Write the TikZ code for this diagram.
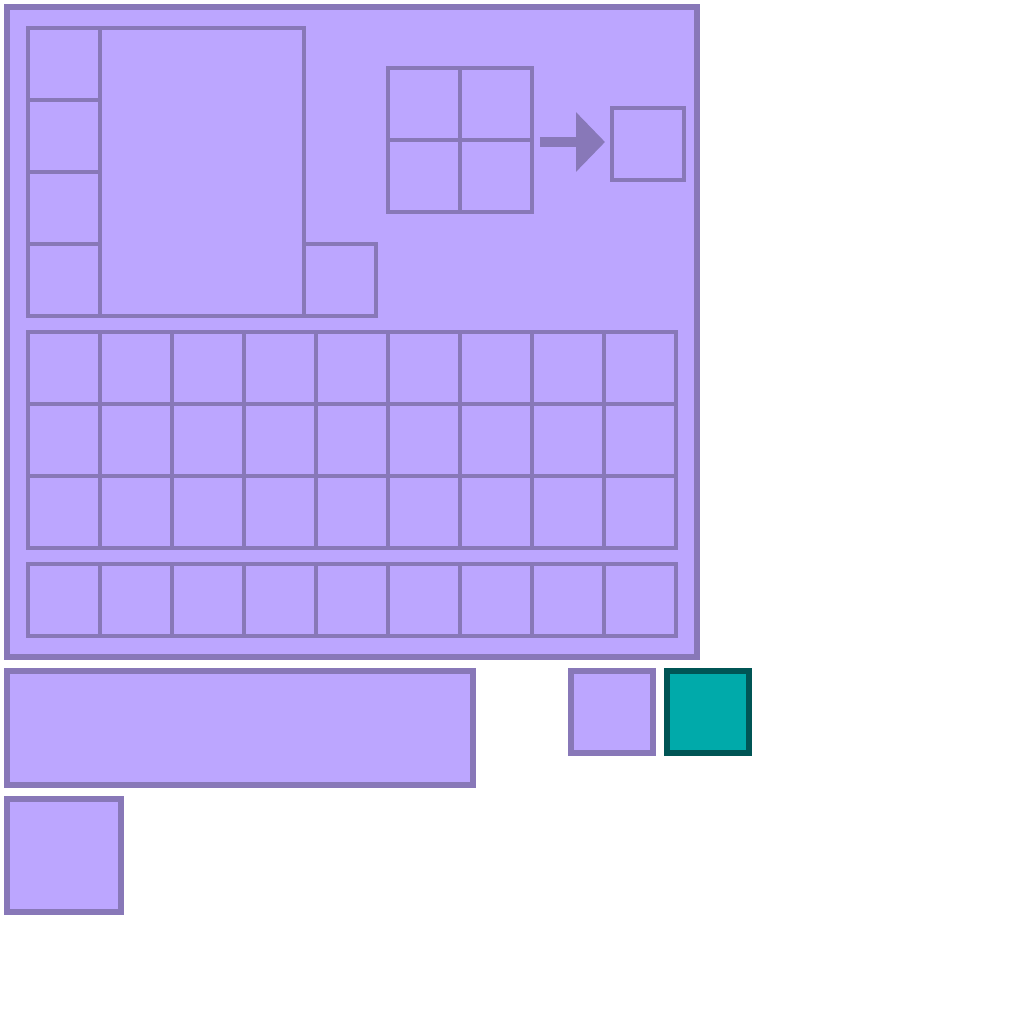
\documentclass[tikz,border=0pt]{standalone}
\usepackage{xcolor}
\definecolor{lavfill}{HTML}{BCA6FF}
\definecolor{lavline}{HTML}{8878B8}
\definecolor{tealfill}{HTML}{00AAAA}
\definecolor{tealline}{HTML}{005555}
\usetikzlibrary{arrows.meta}
\tikzset{
  frame/.style={draw=lavline,fill=lavfill,line width=0.12cm},
  cell/.style={draw=lavline,fill=lavfill,line width=0.08cm},
  pick/.style={draw=tealline,fill=tealfill,line width=0.12cm}
}

\begin{document}
\begin{tikzpicture}[x=0.02cm,y=-0.02cm]
  \useasboundingbox (0,0) rectangle (1024,1024);
  % outer frame
  \draw[frame] (7,7) rectangle (697,657);
  % left column and tall block
  \foreach \r in {0,...,3}
    \draw[cell] (28,28+72*\r) rectangle (100,100+72*\r);
  \draw[cell] (100,28) rectangle (304,316);
  \draw[cell] (304,244) rectangle (376,316);
  % 2x2 block, arrow and result
  \foreach \c in {0,1}
    \foreach \r in {0,1}
      \draw[cell] (388+72*\c,68+72*\r) rectangle (460+72*\c,140+72*\r);
  \draw[lavline,line width=0.22cm,-{Triangle[length=0.58cm,width=1.16cm]}] (540,142) -- (605,142);
  \draw[cell] (612,108) rectangle (684,180);
  % 9x3 grid
  \foreach \c in {0,...,8}
    \foreach \r in {0,1,2}
      \draw[cell] (28+72*\c,332+72*\r) rectangle (100+72*\c,404+72*\r);
  % single row
  \foreach \c in {0,...,8}
    \draw[cell] (28+72*\c,564) rectangle (100+72*\c,636);
  % below the frame
  \draw[frame] (7,671) rectangle (473,785);
  \draw[frame] (7,799) rectangle (121,912);
  \draw[frame] (571,671) rectangle (653,753);
  \draw[pick] (667,671) rectangle (749,753);
\end{tikzpicture}
\end{document}
